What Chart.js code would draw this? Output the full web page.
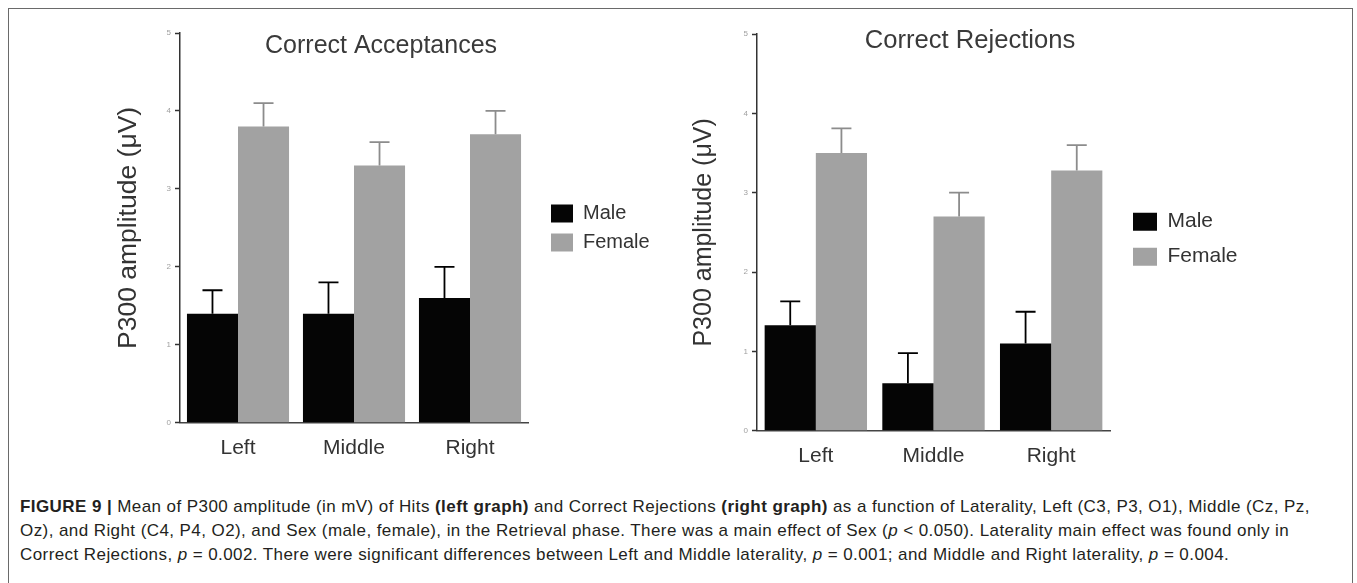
<!DOCTYPE html>
<html>
<head>
<meta charset="utf-8">
<script src="https://cdn.jsdelivr.net/npm/chart.js@4.4.1/dist/chart.umd.min.js"></script>
<style>
  html, body { margin: 0; padding: 0; background: #fff; }
  body { width: 1357px; height: 583px; position: relative; overflow: hidden; }
  #frame { position: absolute; left: 8px; top: 8px; width: 1343px; height: 600px; border: 1.5px solid #6a6a6a; }
  #accChart { position: absolute; left: 0; top: 0; }
  #rejChart { position: absolute; left: 680px; top: 0; }
  #caption {
    position: absolute; left: 20px; top: 495px; white-space: nowrap;
    font-family: 'Liberation Sans', Arial, sans-serif; font-size: 17px; letter-spacing: 0.42px;
    line-height: 24px; color: #231f20;
  }
</style>
</head>
<body>
<div id="frame"></div>
<canvas id="accChart" width="680" height="473"></canvas>
<canvas id="rejChart" width="677" height="482"></canvas>
<div id="caption"><b>FIGURE 9 |</b> Mean of P300 amplitude (in mV) of Hits <b>(left graph)</b> and Correct Rejections <b>(right graph)</b> as a function of Laterality, Left (C3, P3, O1), Middle (Cz, Pz,<br>Oz), and Right (C4, P4, O2), and Sex (male, female), in the Retrieval phase. There was a main effect of Sex (<i>p</i> &lt; 0.050). Laterality main effect was found only in<br>Correct Rejections, <i>p</i> = 0.002. There were significant differences between Left and Middle laterality, <i>p</i> = 0.001; and Middle and Right laterality, <i>p</i> = 0.004.</div>
<script>
const CATEGORIES = ['Left', 'Middle', 'Right'];
const SERIES     = ['Male', 'Female'];
const Y_TICKS    = [0, 1, 2, 3, 4, 5];

// Correct Acceptances (left graph)
const ACC_MALE       = [1.4, 1.4, 1.6];
const ACC_MALE_ERR   = [0.3, 0.4, 0.4];
const ACC_FEMALE     = [3.8, 3.3, 3.7];
const ACC_FEMALE_ERR = [0.3, 0.3, 0.3];

// Correct Rejections (right graph)
const REJ_MALE       = [1.33, 0.6, 1.1];
const REJ_MALE_ERR   = [0.3, 0.38, 0.4];
const REJ_FEMALE     = [3.5, 2.7, 3.28];
const REJ_FEMALE_ERR = [0.31, 0.3, 0.32];

const MALE_COLOR   = '#050505';
const FEMALE_COLOR = '#a2a2a2';

Chart.defaults.font.family = "'Liberation Sans', Arial, sans-serif";
Chart.defaults.color = '#333';

// upward-only SEM whiskers, placed with the chart's own y scale
const errorBars = {
    id: 'errorBars',
    afterDatasetsDraw(chart, args, o) {
        const { ctx } = chart;
        const y = chart.scales.y;
        chart.data.datasets.forEach((ds, i) => {
            chart.getDatasetMeta(i).data.forEach((bar, j) => {
                const top = y.getPixelForValue(ds.data[j] + ds.errors[j]);
                ctx.save();
                ctx.strokeStyle = ds.errorColor;
                ctx.lineWidth = o.width;
                ctx.beginPath();
                ctx.moveTo(bar.x, bar.y);
                ctx.lineTo(bar.x, top);
                ctx.moveTo(bar.x - o.cap / 2, top);
                ctx.lineTo(bar.x + o.cap / 2, top);
                ctx.stroke();
                ctx.restore();
            });
        });
    }
};

// title sits inside the plot, legend a bit off the axis end
const nudge = {
    id: 'nudge',
    afterLayout(chart, args, o) {
        const t = chart.titleBlock, l = chart.legend;
        t.left += o.titleX; t.right += o.titleX; t.top += o.titleY; t.bottom += o.titleY;
        l.left += o.legendX; l.top += o.legendY; l.bottom += o.legendY;
        l.right = l.left + 200; // legend clips to its box
    }
};

function makeChart(id, cfg) {
    return new Chart(document.getElementById(id), {
        type: 'bar',
        data: {
            labels: CATEGORIES,
            datasets: [
                { label: SERIES[0], data: cfg.male, errors: cfg.maleErr, errorColor: '#000',
                  backgroundColor: MALE_COLOR, borderWidth: 0 },
                { label: SERIES[1], data: cfg.female, errors: cfg.femaleErr, errorColor: '#8c8c8c',
                  backgroundColor: FEMALE_COLOR, borderWidth: 0 },
            ],
        },
        options: {
            responsive: false,
            animation: false,
            events: [],
            devicePixelRatio: 1,
            layout: { padding: cfg.padding },
            datasets: { bar: { barPercentage: 1.0, categoryPercentage: cfg.catPct } },
            plugins: {
                title: {
                    display: true, text: cfg.title, color: '#3a3a3a',
                    font: { size: cfg.titleSize, weight: 'normal' }, padding: 0,
                },
                legend: {
                    position: 'right', align: 'center', maxWidth: 90,
                    labels: {
                        boxWidth: cfg.boxW, boxHeight: 18, padding: cfg.legendPad,
                        color: '#333', font: { size: cfg.legendSize },
                    },
                },
                tooltip: { enabled: false },
                errorBars: { width: 1.8, cap: 20 },
                nudge: cfg.nudge,
            },
            scales: {
                x: {
                    grid: { display: false, drawTicks: false },
                    border: { display: true, color: '#444', width: 1.5 },
                    ticks: { color: '#333', font: { size: 21 }, padding: cfg.xPad },
                },
                y: {
                    min: 0, max: 5,
                    afterBuildTicks: s => { s.ticks = Y_TICKS.map(v => ({ value: v })); },
                    grid: { drawOnChartArea: false, tickLength: 5, tickColor: '#333', tickWidth: 1.5 },
                    border: { display: true, color: '#333', width: 1.5 },
                    ticks: { color: '#a0a0a0', font: { size: 8 }, padding: 4 },
                    title: {
                        display: true, text: 'P300 amplitude (\u03bcV)', color: '#333',
                        font: { size: cfg.yTitleSize }, padding: { top: 0, bottom: cfg.yTitlePad },
                    },
                },
            },
        },
        plugins: [nudge, errorBars],
    });
}

makeChart('accChart', {
    title: 'Correct Acceptances', titleSize: 25,
    male: ACC_MALE, maleErr: ACC_MALE_ERR, female: ACC_FEMALE, femaleErr: ACC_FEMALE_ERR,
    padding: { left: 113.1, top: 3, right: 62, bottom: 0 },
    catPct: 0.88, xPad: 12.5,
    yTitleSize: 26.5, yTitlePad: 17.65,
    boxW: 22, legendPad: 9, legendSize: 20,
    nudge: { titleX: 15.5, titleY: 28, legendX: 14, legendY: -10 },
});

makeChart('rejChart', {
    title: 'Correct Rejections', titleSize: 25.6,
    male: REJ_MALE, maleErr: REJ_MALE_ERR, female: REJ_FEMALE, femaleErr: REJ_FEMALE_ERR,
    padding: { left: 9, top: 3.28, right: 157, bottom: 0 },
    catPct: 0.87, xPad: 13,
    yTitleSize: 25, yTitlePad: 20.55,
    boxW: 24, legendPad: 14, legendSize: 21,
    nudge: { titleX: 25.5, titleY: 22.4, legendX: 9, legendY: -3.5 },
});
</script>
</body>
</html>
